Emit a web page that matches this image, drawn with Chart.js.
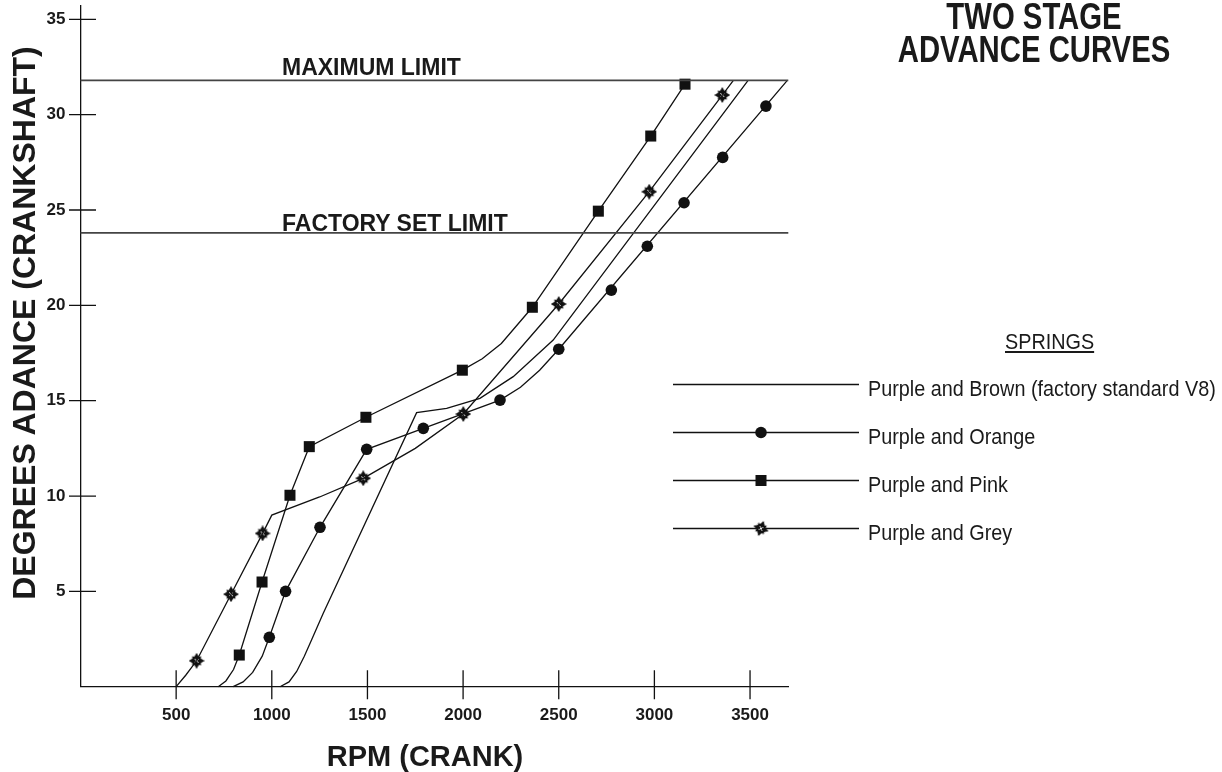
<!DOCTYPE html>
<html>
<head>
<meta charset="utf-8">
<script src="https://cdn.jsdelivr.net/npm/chart.js@4/dist/chart.umd.min.js"></script>
<style>
html,body{margin:0;padding:0;background:#fff;}
#wrap{position:relative;width:1222px;height:772px;overflow:hidden;background:#fff;}
#c{position:absolute;left:0;top:0;}
.t{position:absolute;font-family:"Liberation Sans",Arial,Helvetica,sans-serif;color:#1a1a1a;white-space:nowrap;line-height:1;}
.b{font-weight:bold;}
</style>
</head>
<body>
<div id="wrap">
<canvas id="c" width="1222" height="772"></canvas>
<div class="t b" style="left:834px;top:-1.4px;width:400px;text-align:center;font-size:36px;transform:scaleX(0.814);">TWO STAGE</div>
<div class="t b" style="left:834px;top:32px;width:400px;text-align:center;font-size:36px;transform:scaleX(0.814);">ADVANCE CURVES</div>
<div class="t b" style="left:-276px;top:306.5px;width:600px;text-align:center;font-size:32px;line-height:32px;transform:rotate(-90deg);">DEGREES ADANCE (CRANKSHAFT)</div>
<div class="t b" style="left:225px;top:741.5px;width:400px;text-align:center;font-size:29px;">RPM (CRANK)</div>
<div class="t" style="left:1004.6px;top:331px;font-size:22px;text-decoration:underline;transform:scaleX(0.9);transform-origin:0 0;">SPRINGS</div>
<div id="labels"></div>
</div>
<script>
// ---- data ----
const xTickValues = [500, 1000, 1500, 2000, 2500, 3000, 3500];
const yTickValues = [5, 10, 15, 20, 25, 30, 35];

const limitNames  = ["MAXIMUM LIMIT", "FACTORY SET LIMIT"];
const limitValues = [31.8, 23.8];

const seriesNames = [
  "Purple and Brown (factory standard V8)",
  "Purple and Orange",
  "Purple and Pink",
  "Purple and Grey"
];

// Purple and Brown (no markers)
const brownRpm = [1043, 1090, 1130, 1170, 1210, 1269, 1757, 1914, 2088, 2262, 2471, 3490];
const brownDeg = [0, 0.25, 0.8, 1.6, 2.5, 3.85, 14.37, 14.6, 15.12, 16.26, 18.18, 31.8];

// Purple and Orange (circles)
const orangeRpm = [798, 850, 900, 950, 987, 1072, 1252, 1496, 1792, 2193, 2300, 2400, 2500, 3695];
const orangeDeg = [0, 0.25, 0.75, 1.6, 2.59, 5.0, 8.36, 12.45, 13.55, 15.03, 15.7, 16.6, 17.7, 31.8];
const orangeMarkRpm = [987, 1072, 1252, 1496, 1792, 2193, 2500, 2775, 2963, 3155, 3357, 3583];
const orangeMarkDeg = [2.59, 5.0, 8.36, 12.45, 13.55, 15.03, 17.7, 20.8, 23.1, 25.38, 27.76, 30.45];

// Purple and Pink (squares)
const pinkRpm = [720, 760, 800, 830, 949, 1095, 1196, 1492, 1996, 2100, 2200, 2362, 2707, 2981, 3160];
const pinkDeg = [0, 0.3, 0.9, 1.66, 5.49, 10.04, 12.59, 14.13, 16.6, 17.2, 18.0, 19.9, 24.94, 28.88, 31.6];
const pinkMarkRpm = [830, 949, 1095, 1196, 1492, 1996, 2362, 2707, 2981, 3160];
const pinkMarkDeg = [1.66, 5.49, 10.04, 12.59, 14.13, 16.6, 19.9, 24.94, 28.88, 31.6];

// Purple and Grey (stars)
const greyRpm = [500, 550, 607, 787, 952, 1000, 1250, 1478, 1750, 2001, 2500, 2973, 3355, 3413];
const greyDeg = [0, 0.6, 1.36, 4.85, 8.04, 9.0, 9.95, 10.93, 12.5, 14.3, 20.07, 25.96, 31.03, 31.8];
const greyMarkRpm = [607, 787, 952, 1478, 2001, 2500, 2973, 3355];
const greyMarkDeg = [1.36, 4.85, 8.04, 10.93, 14.3, 20.07, 25.96, 31.03];

const xMin = 0, xMax = 3700, yMin = 0, yMax = 35.7;

// ---- helpers ----
const pts = (xs, ys) => xs.map((x, i) => ({x: x, y: ys[i]}));
const INK = '#111';

function makeStar(size) {
  const c = document.createElement('canvas');
  c.width = size; c.height = size;
  const g = c.getContext('2d');
  const m = size / 2;
  g.fillStyle = INK;
  function star(R, r, rot) {
    g.beginPath();
    for (let i = 0; i < 8; i++) {
      const a = rot + i * Math.PI / 4;
      const rad = (i % 2 === 0) ? R : r;
      const px = m + rad * Math.cos(a), py = m + rad * Math.sin(a);
      if (i === 0) g.moveTo(px, py); else g.lineTo(px, py);
    }
    g.closePath(); g.fill();
  }
  star(size / 2, size * 0.26, -Math.PI / 2);
  star(size * 0.4, size * 0.24, -Math.PI / 4);
  g.strokeStyle = '#fff'; g.lineWidth = 0.9;
  g.beginPath();
  g.moveTo(m - 2, m - 2); g.lineTo(m + 2, m + 2);
  g.moveTo(m + 2, m - 2); g.lineTo(m - 2, m + 2);
  g.stroke();
  return c;
}
const starImg = makeStar(16);

function lineSet(xs, ys) {
  return {data: pts(xs, ys), showLine: true, borderColor: INK, borderWidth: 1.3,
          pointRadius: 0, pointHoverRadius: 0, tension: 0, fill: false, clip: false};
}
function markSet(xs, ys, style, r) {
  return {data: pts(xs, ys), showLine: false, pointStyle: style, pointRadius: r,
          pointHoverRadius: r, backgroundColor: INK, borderColor: INK, borderWidth: 0, clip: false};
}

const datasets = [];
limitValues.forEach(v => {
  datasets.push({data: [{x: xMin, y: v}, {x: xMax, y: v}], showLine: true, borderColor: '#444',
                 borderWidth: 1.6, pointRadius: 0, tension: 0, clip: false});
});
datasets.push(lineSet(brownRpm, brownDeg));
datasets.push(lineSet(orangeRpm, orangeDeg));
datasets.push(lineSet(pinkRpm, pinkDeg));
datasets.push(lineSet(greyRpm, greyDeg));
datasets.push(markSet(orangeMarkRpm, orangeMarkDeg, 'circle', 5.8));
datasets.push(markSet(pinkMarkRpm, pinkMarkDeg, 'rect', 7.8));
datasets.push(markSet(greyMarkRpm, greyMarkDeg, starImg, 8));

// tick marks crossing the axes + legend samples
const crossTicks = {
  id: 'crossTicks',
  afterDraw(chart) {
    const ctx = chart.ctx, xs = chart.scales.x, ys = chart.scales.y;
    const x0 = xs.getPixelForValue(0), y0 = ys.getPixelForValue(0);
    ctx.save();
    ctx.strokeStyle = INK; ctx.lineWidth = 1.3;
    ctx.beginPath();
    xTickValues.forEach(v => {
      const px = xs.getPixelForValue(v);
      ctx.moveTo(px, y0 - 16.5); ctx.lineTo(px, y0 + 12.5);
    });
    yTickValues.forEach(v => {
      const py = ys.getPixelForValue(v);
      ctx.moveTo(x0 - 11.5, py); ctx.lineTo(x0 + 15.5, py);
    });
    ctx.stroke();

    // legend samples
    const rows = [384.5, 432.5, 480.5, 528.5];
    const lx1 = 673, lx2 = 859, mx = 761;
    ctx.beginPath();
    rows.forEach(y => { ctx.moveTo(lx1, y); ctx.lineTo(lx2, y); });
    ctx.stroke();
    ctx.fillStyle = INK;
    ctx.beginPath(); ctx.arc(mx, rows[1], 5.8, 0, Math.PI * 2); ctx.fill();
    ctx.fillRect(mx - 5.5, rows[2] - 5.5, 11, 11);
    ctx.save();
    ctx.translate(mx, rows[3]); ctx.rotate(0.35);
    ctx.drawImage(starImg, -8, -8);
    ctx.restore();
    ctx.restore();
  }
};

const tickFont = {family: '"Liberation Sans", Arial, sans-serif', size: 17, weight: 'bold'};

new Chart(document.getElementById('c'), {
  type: 'scatter',
  data: {datasets: datasets},
  options: {
    responsive: false,
    animation: false,
    events: [],
    layout: {autoPadding: false, padding: {left: 0, top: 6, right: 433.7, bottom: 0}},
    plugins: {legend: {display: false}, tooltip: {enabled: false}, title: {display: false}},
    scales: {
      x: {
        type: 'linear', min: xMin, max: xMax,
        grid: {display: false, drawTicks: false},
        border: {display: true, color: INK, width: 1.3},
        ticks: {font: tickFont, color: '#1a1a1a', padding: 18, autoSkip: false, maxRotation: 0,
                callback: v => String(v)},
        afterBuildTicks: s => { s.ticks = xTickValues.map(v => ({value: v})); },
        afterFit: s => { s.height = 85.3; s.paddingLeft = 0; s.paddingRight = 0; }
      },
      y: {
        type: 'linear', min: yMin, max: yMax,
        grid: {display: false, drawTicks: false},
        border: {display: true, color: INK, width: 1.3},
        ticks: {font: tickFont, color: '#1a1a1a', padding: 15, autoSkip: false,
                callback: v => String(v)},
        afterBuildTicks: s => { s.ticks = yTickValues.map(v => ({value: v})); },
        afterFit: s => { s.width = 80.5; s.paddingTop = 0; s.paddingBottom = 0; }
      }
    }
  },
  plugins: [crossTicks]
});

// text labels
const lab = document.getElementById('labels');
function addText(txt, left, top, size, bold, extra) {
  const d = document.createElement('div');
  d.className = 't' + (bold ? ' b' : '');
  d.textContent = txt;
  d.style.left = left + 'px';
  d.style.top = top + 'px';
  d.style.fontSize = size + 'px';
  if (extra) Object.assign(d.style, extra);
  lab.appendChild(d);
}
const limitTops = [55.5, 212];
limitNames.forEach((n, i) => addText(n, 282, limitTops[i], 23, true));
const legendTops = [378, 426, 474, 522];
seriesNames.forEach((n, i) => addText(n, 868, legendTops[i], 22, false,
  {transform: 'scaleX(0.9)', transformOrigin: '0 0'}));
</script>
</body>
</html>
